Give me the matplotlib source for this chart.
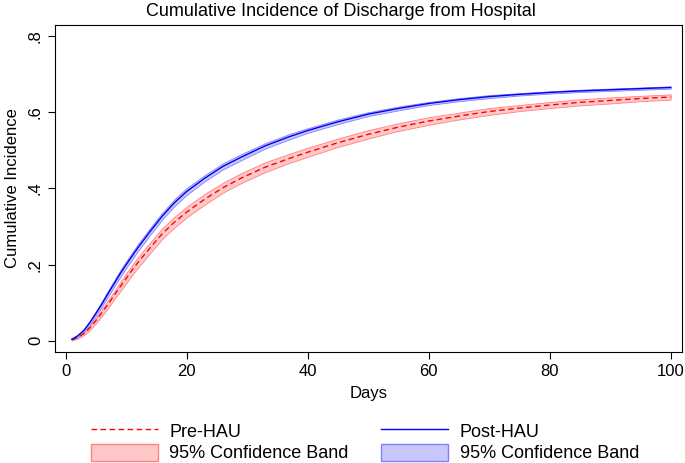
import matplotlib
matplotlib.use('Agg')
import matplotlib.pyplot as plt
from matplotlib.patches import Patch
from matplotlib.lines import Line2D

plt.rcParams['font.family'] = ['Liberation Sans', 'DejaVu Sans']

days = [1, 2, 3, 4, 5, 6, 7, 8, 9, 10, 11, 12, 14, 16, 18, 20, 23, 26, 29, 33,
        37, 40, 45, 50, 55, 60, 65, 70, 75, 80, 85, 90, 95, 100]
post = [0.004, 0.013, 0.027, 0.048, 0.072, 0.097, 0.124, 0.150, 0.176, 0.200,
        0.223, 0.246, 0.288, 0.328, 0.363, 0.392, 0.427, 0.458, 0.482, 0.512,
        0.536, 0.552, 0.575, 0.595, 0.610, 0.623, 0.633, 0.641, 0.647, 0.652,
        0.656, 0.659, 0.662, 0.665]
pre = [0.003, 0.009, 0.019, 0.034, 0.053, 0.074, 0.096, 0.119, 0.142, 0.164,
       0.186, 0.207, 0.245, 0.282, 0.312, 0.338, 0.372, 0.402, 0.427, 0.456,
       0.479, 0.495, 0.520, 0.542, 0.561, 0.577, 0.590, 0.602, 0.611, 0.619,
       0.626, 0.631, 0.636, 0.640]
post_hw = [0.002, 0.003, 0.004, 0.005, 0.006, 0.007, 0.008, 0.008, 0.009, 0.009,
           0.009, 0.009, 0.009, 0.009, 0.009, 0.009, 0.008, 0.008, 0.008, 0.007,
           0.007, 0.006, 0.006, 0.005, 0.005, 0.004, 0.004, 0.004, 0.003, 0.003,
           0.003, 0.003, 0.003, 0.003]
pre_hw = [0.002, 0.003, 0.004, 0.006, 0.007, 0.009, 0.010, 0.011, 0.012, 0.013,
          0.013, 0.014, 0.014, 0.014, 0.014, 0.014, 0.014, 0.013, 0.013, 0.013,
          0.012, 0.012, 0.011, 0.011, 0.010, 0.010, 0.009, 0.009, 0.008, 0.008,
          0.008, 0.008, 0.007, 0.007]

pre_lo = [v - h for v, h in zip(pre, pre_hw)]
pre_hi = [v + h for v, h in zip(pre, pre_hw)]
post_lo = [v - h for v, h in zip(post, post_hw)]
post_hi = [v + h for v, h in zip(post, post_hw)]

fig = plt.figure(figsize=(6.85, 4.63), dpi=100)
ax = fig.add_axes([0.080, 0.240, 0.915, 0.706])

ax.fill_between(days, pre_lo, pre_hi, facecolor='#ffc8c8', edgecolor='#ff8080', lw=0.6)
ax.fill_between(days, post_lo, post_hi, facecolor='#c8c8ff', edgecolor='#8080ff', lw=0.6)
ax.plot(days, pre, color='#ff0000', ls=(0, (4, 2.5)), lw=1.0)
ax.plot(days, post, color='#0000ee', lw=1.0)

ax.set_xlim(-1.8, 101.8)
ax.set_ylim(-0.029, 0.829)
ax.set_xticks([0, 20, 40, 60, 80, 100])
ax.set_yticks([0, 0.2, 0.4, 0.6, 0.8])
ax.set_yticklabels(['0', '.2', '.4', '.6', '.8'], rotation=90, va='center')
ax.tick_params(labelsize=12, length=5, direction='out')
ax.set_xlabel('Days', fontsize=12, labelpad=5)
ax.set_ylabel('Cumulative Incidence', fontsize=12, labelpad=6)
fig.text(0.497, 1 - 11 / 463, 'Cumulative Incidence of Discharge from Hospital',
         fontsize=13, ha='center', va='center')

handles = [
    Line2D([], [], color='#ff0000', ls=(0, (4, 2.5)), lw=1.0),
    Patch(facecolor='#ffc8c8', edgecolor='#ff8080'),
    Line2D([], [], color='#0000ee', lw=1.0),
    Patch(facecolor='#c8c8ff', edgecolor='#8080ff'),
]
labels = ['Pre-HAU', '95% Confidence Band', 'Post-HAU', '95% Confidence Band']
fig.legend(handles, labels, ncol=2, loc='center left', bbox_to_anchor=(0.109, 0.045),
           frameon=False, fontsize=13, handlelength=3.7, handleheight=1.1,
           columnspacing=1.8, labelspacing=0.15, handletextpad=0.65)

fig.savefig('out.png', dpi=100)
